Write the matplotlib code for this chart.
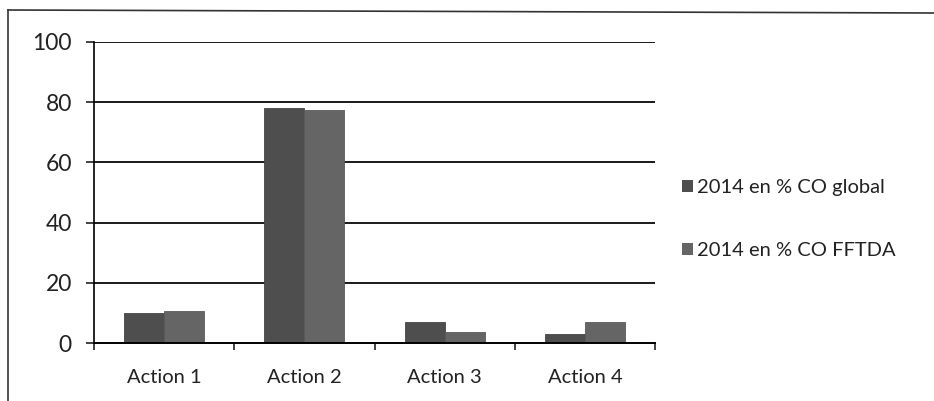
import numpy as np
import matplotlib.pyplot as plt
from matplotlib.lines import Line2D
from matplotlib.patches import Patch

categories = ['Action 1', 'Action 2', 'Action 3', 'Action 4']
co_global = [10, 78, 7, 3]
co_fftda = [10.6, 77.3, 3.6, 7]
series_names = ['2014 en % CO global', '2014 en % CO FFTDA']
yticks = [0, 20, 40, 60, 80, 100]

plt.rcParams['font.family'] = ['Lato', 'DejaVu Sans']

fig = plt.figure(figsize=(9.34, 4.01), dpi=100)
ax = fig.add_axes([94 / 934, 1 - 343 / 401, (655 - 94) / 934, (343 - 42) / 401])

x = np.arange(len(categories))
w = 1 / 3.5
ax.bar(x - w / 2, co_global, width=w, color='#4e4e4e', edgecolor='#444444', linewidth=0.6)
ax.bar(x + w / 2, co_fftda, width=w, color='#656565', edgecolor='#5a5a5a', linewidth=0.6)

ax.set_xlim(-0.5, len(categories) - 0.5)
ax.set_ylim(0, 100)
ax.set_yticks(yticks)
ax.set_yticklabels([str(t) for t in yticks], fontsize=16.5, color='#222222')
for t in yticks[1:]:
    ax.axhline(t, color='#1a1a1a', linewidth=1.4, zorder=0)

ax.set_xticks(x)
ax.set_xticklabels(categories, fontsize=14.5, color='#222222')
ax.tick_params(axis='x', length=0, pad=19)
ax.set_xticks(np.arange(len(categories) + 1) - 0.5, minor=True)
ax.tick_params(axis='x', which='minor', length=5, width=1.2, color='#222222')
ax.tick_params(axis='y', length=6, width=1.2, color='#222222', pad=10)

for s in ['top', 'right']:
    ax.spines[s].set_visible(False)
ax.spines['left'].set_linewidth(1.2)
ax.spines['bottom'].set_linewidth(1.4)

handles = [Patch(facecolor='#4e4e4e'), Patch(facecolor='#656565')]
fig.legend(handles, series_names, loc='center left', bbox_to_anchor=(664 / 934, 1 - 219 / 401),
           frameon=False, fontsize=14.5, handlelength=0.55, handleheight=0.55,
           handletextpad=0.2, labelspacing=2.3, labelcolor='#222222')

# outer chart frame (cropped scan)
fig.add_artist(Line2D([8 / 934, 8 / 934], [0, 1 - 10 / 401], color='#333333', linewidth=1.2))
fig.add_artist(Line2D([8 / 934, 1], [1 - 10 / 401, 1 - 13 / 401], color='#333333', linewidth=1.2))

fig.savefig('out.png', dpi=100)
